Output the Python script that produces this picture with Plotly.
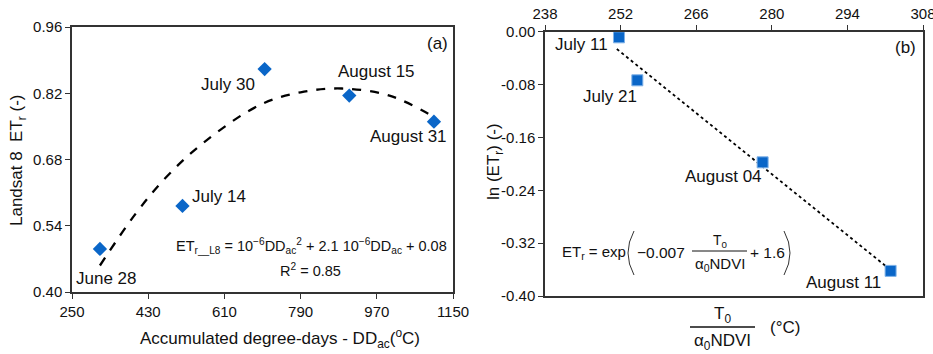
import plotly.graph_objects as go

W, H = 933, 354
FONT = "Liberation Sans, Arial, sans-serif"
BLUE = "#0a66c8"

# ---- Panel (a) data ----
dd_ac = [316, 511, 705, 905, 1105]
etr_l8 = [0.491, 0.582, 0.871, 0.815, 0.760]
labels_a = ["June 28", "July 14", "July 30", "August 15", "August 31"]
# fitted curve
fit_a_x = [316, 400, 474, 560, 693, 790, 888, 1000, 1105]
fit_a_y = [0.456, 0.565, 0.644, 0.715, 0.795, 0.822, 0.830, 0.815, 0.770]

# ---- Panel (b) data ----
t_ndvi = [251.7, 255.1, 278.3, 302.0]
ln_etr = [-0.0085, -0.0736, -0.1977, -0.362]
labels_b = ["July 11", "July 21", "August 04", "August 11"]
fit_b_x = [251.3, 301.6]
fit_b_y = [-0.0262, -0.358]

ticks_a_x = [250, 430, 610, 790, 970, 1150]
ticks_a_y = [0.40, 0.54, 0.68, 0.82, 0.96]
ticks_b_x = [238, 252, 266, 280, 294, 308]
ticks_b_y = [0.00, -0.08, -0.16, -0.24, -0.32, -0.40]


def px(x):
    return x / W


def py(y):
    return 1 - y / H


fig = go.Figure()
fig.add_trace(go.Scatter(x=fit_a_x, y=fit_a_y, mode="lines", line=dict(color="black", width=2.3, dash="dash", shape="spline"),
                         xaxis="x", yaxis="y", showlegend=False))
fig.add_trace(go.Scatter(x=dd_ac, y=etr_l8, mode="markers", marker=dict(symbol="diamond", size=11, color=BLUE),
                         xaxis="x", yaxis="y", showlegend=False))
fig.add_trace(go.Scatter(x=fit_b_x, y=fit_b_y, mode="lines", line=dict(color="black", width=1.8, dash="dot"),
                         xaxis="x2", yaxis="y2", showlegend=False))
fig.add_trace(go.Scatter(x=t_ndvi, y=ln_etr, mode="markers",
                         marker=dict(symbol="square", size=11, color=BLUE, line=dict(color="#7fb2e8", width=1)),
                         xaxis="x2", yaxis="y2", showlegend=False))

axcommon = dict(showgrid=False, zeroline=False, linecolor="#333", linewidth=1.5, ticks="outside", ticklen=5,
                tickcolor="#333", tickfont=dict(family=FONT, size=15, color="#111"), mirror=True,
                automargin=False, ticklabeloverflow="allow")

fig.update_layout(
    width=W, height=H, margin=dict(l=0, r=0, t=0, b=0), plot_bgcolor="white", paper_bgcolor="white",
    font=dict(family=FONT, color="#111"),
    xaxis=dict(domain=[px(72), px(453)], range=[250, 1150], tickvals=ticks_a_x, anchor="y", **axcommon),
    yaxis=dict(domain=[py(292), py(27)], range=[0.40, 0.96], tickvals=ticks_a_y,
               ticktext=[f"{v:.2f}" for v in ticks_a_y], anchor="x", **axcommon),
    xaxis2=dict(domain=[px(545), px(923)], range=[238, 308], tickvals=ticks_b_x, side="top", anchor="y2", **axcommon),
    yaxis2=dict(domain=[py(296), py(31.7)], range=[-0.40, 0.0], tickvals=ticks_b_y,
                ticktext=[f"{v:.2f}".replace("\u2212", "-") for v in ticks_b_y], anchor="x2", **axcommon),
)

ann = []
LBL = 17
# data labels
shifts_a = [(7, -30, "center"), (8, 9, "left"), (-8, -15, "right"), (27, 24, "center"), (-25, -15, "center")]
for x, y, t, (dx, dy, xa) in zip(dd_ac, etr_l8, labels_a, shifts_a):
    ann.append(dict(x=x, y=y, xref="x", yref="y", text=t, showarrow=False, xshift=dx, yshift=dy, xanchor=xa,
                    font=dict(size=LBL, family=FONT)))
shifts_b = [(-9, -7, "right"), (-27, -16, "center"), (-39, -14, "center"), (-47, -12, "center")]
for x, y, t, (dx, dy, xa) in zip(t_ndvi, ln_etr, labels_b, shifts_b):
    ann.append(dict(x=x, y=y, xref="x2", yref="y2", text=t, showarrow=False, xshift=dx, yshift=dy, xanchor=xa,
                    font=dict(size=LBL, family=FONT)))


def txt(x, y, t, size=15, angle=0, xa="center"):
    ann.append(dict(x=px(x), y=py(y), xref="paper", yref="paper", text=t, showarrow=False, textangle=angle,
                    xanchor=xa, yanchor="middle", font=dict(size=size, family=FONT)))


txt(437, 44, "(a)", 17)
txt(905, 48, "(b)", 17)
txt(280, 338, "Accumulated degree-days - DD<sub>ac</sub>(<sup>o</sup>C)", 17)
txt(18, 160, "Landsat 8  ET<sub>r</sub> (-)", 17, -90)
txt(495, 162, "ln (ET<sub>r</sub>) (-)", 17, -90)
txt(311, 246, "ET<sub>r__L8</sub> = 10<sup>\u22126</sup>DD<sub>ac</sub><sup>2</sup> + 2.1 10<sup>\u22126</sup>DD<sub>ac</sub> + 0.08", 14.5)
txt(310, 270, "R<sup>2</sup> = 0.85", 14.5)
# right equation
txt(560, 252, "ET<sub>r</sub> = exp", 15, xa="left")
txt(635, 252, "\u22120.007", 15.5, xa="left")
txt(720, 241, "T<sub>0</sub>", 14)
txt(720, 264, "\u03b1<sub>0</sub>NDVI", 15)
txt(748, 252, "+ 1.6", 15.5, xa="left")
# x title of panel b
txt(722, 315, "T<sub>0</sub>", 17)
txt(722, 342, "\u03b1<sub>0</sub>NDVI", 17)
txt(785, 327, "(\u00b0C)", 17)
fig.update_layout(annotations=ann)

shapes = [
    dict(type="line", xref="paper", yref="paper", x0=px(692), x1=px(747), y0=py(251), y1=py(251),
         line=dict(color="#111", width=1)),
    dict(type="line", xref="paper", yref="paper", x0=px(690), x1=px(755), y0=py(327), y1=py(327),
         line=dict(color="#111", width=1.3)),
    dict(type="path", xref="paper", yref="paper",
         path=f"M {px(634)},{py(231)} Q {px(622)},{py(253)} {px(634)},{py(275)}", line=dict(color="#333", width=1)),
    dict(type="path", xref="paper", yref="paper",
         path=f"M {px(784)},{py(231)} Q {px(796)},{py(253)} {px(784)},{py(275)}", line=dict(color="#333", width=1)),
]
fig.update_layout(shapes=shapes)

fig.write_html("out.html")
